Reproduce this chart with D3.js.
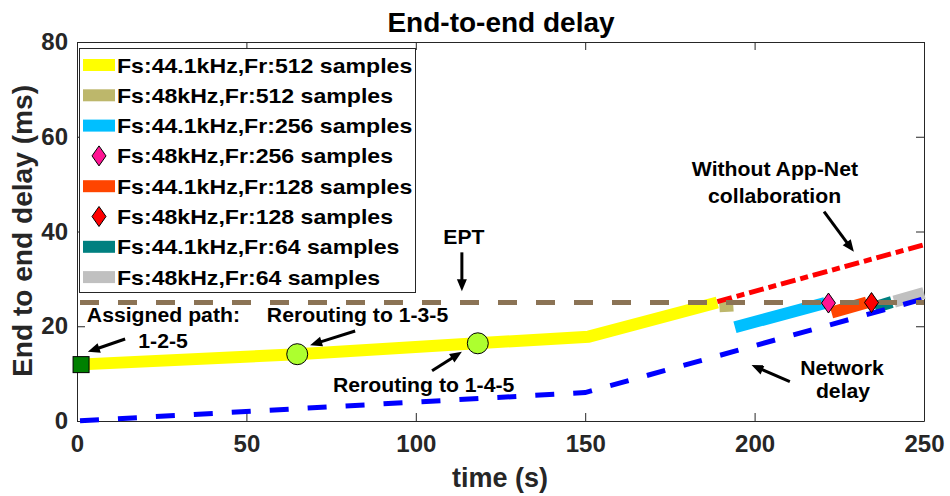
<!DOCTYPE html>
<html><head><meta charset="utf-8">
<script src="https://cdn.jsdelivr.net/npm/d3@7"></script>
<style>
body{margin:0;background:#fff}
svg{display:block}
text{font-family:"Liberation Sans",Arial,Helvetica,sans-serif;font-weight:bold}
</style>
</head><body>
<svg id="c" width="950" height="496"></svg>
<script>
// ---------- data ----------
const xTicks = [0, 50, 100, 150, 200, 250];
const yTicks = [0, 20, 40, 60, 80];
const fs441_512 = [[0, 11.9], [65, 14.1], [118, 16.4], [151, 17.8], [189, 25.0]];
const fs48_512  = [[189.6, 24.2], [193.7, 24.4]];
const fs441_256 = [[194.2, 19.8], [220.8, 24.9]];
const fs48_256  = [[221.8, 24.9]];
const fs441_128 = [[222.7, 22.9], [233.1, 25.0]];
const fs48_128  = [[234.5, 25.0]];
const fs441_64  = [[235.5, 24.0], [240.5, 25.1]];
const fs48_64   = [[241.2, 25.2], [250, 27.0]];
const networkDelay = [[0, 0], [150, 6], [250, 25.8]];
const withoutCollab = [[189, 25.2], [250, 37.2]];
const eptLine = [[0, 25], [250, 25]];
const reroutePoints = [[65, 14.1], [118.3, 16.4]];
const assignedPoint = [[1.2, 11.9]];
const legendLabels = [
  "Fs:44.1kHz,Fr:512 samples", "Fs:48kHz,Fr:512 samples",
  "Fs:44.1kHz,Fr:256 samples", "Fs:48kHz,Fr:256 samples",
  "Fs:44.1kHz,Fr:128 samples", "Fs:48kHz,Fr:128 samples",
  "Fs:44.1kHz,Fr:64 samples",  "Fs:48kHz,Fr:64 samples"];
const legendKinds = ["line", "line", "line", "diamond", "line", "diamond", "line", "line"];
const seriesColors = ["#FFFF00", "#BDB76B", "#00BFFF", "#FF1493", "#FF4500", "#FF0000", "#008080", "#C0C0C0"];
const annoTexts = [
  {t: "EPT", x: 114.2, y: 37.4},
  {t: "Without App-Net", x: 206.0, y: 51.7},
  {t: "collaboration", x: 205.9, y: 46.0},
  {t: "Network", x: 225.8, y: 9.7},
  {t: "delay", x: 226.1, y: 4.9},
  {t: "Assigned path:", x: 25.5, y: 21.0},
  {t: "1-2-5", x: 25.4, y: 15.4},
  {t: "Rerouting to 1-3-5", x: 82.8, y: 21.0},
  {t: "Rerouting to 1-4-5", x: 102.3, y: 6.1}];
const annoArrows = [
  [113.6, 35.6, 113.6, 27.4],
  [220.5, 44.2, 229.3, 35.7],
  [210.4, 8.3, 199.1, 11.8],
  [14.2, 17.3, 3.2, 14.6],
  [82.1, 19.0, 68.8, 16.0],
  [104.8, 10.6, 113.6, 14.6]];

// ---------- layout ----------
const svg = d3.select("#c");
const L = 77, R = 924, T = 42, B = 421;
const x = d3.scaleLinear().domain([0, 250]).range([L, R]);
const y = d3.scaleLinear().domain([0, 80]).range([B, T]);
const axisColor = "#262626";

function stretch(sel, f) {
  sel.each(function () {
    const w = this.getComputedTextLength();
    d3.select(this).attr("textLength", w * f).attr("lengthAdjust", "spacingAndGlyphs");
  });
}

// axes
const gx = svg.append("g").attr("transform", `translate(0,${B})`)
  .call(d3.axisBottom(x).tickValues(xTicks).tickSizeInner(-8).tickSizeOuter(0).tickPadding(14));
const gxTop = svg.append("g").attr("transform", `translate(0,${T})`)
  .call(d3.axisTop(x).tickValues(xTicks).tickSizeInner(-8).tickSizeOuter(0).tickFormat(""));
const gy = svg.append("g").attr("transform", `translate(${L},0)`)
  .call(d3.axisLeft(y).tickValues(yTicks).tickSizeInner(-8).tickSizeOuter(0).tickPadding(9));
const gyR = svg.append("g").attr("transform", `translate(${R},0)`)
  .call(d3.axisRight(y).tickValues(yTicks).tickSizeInner(-8).tickSizeOuter(0).tickFormat(""));
[gx, gxTop, gy, gyR].forEach(g => {
  g.select(".domain").attr("stroke", axisColor).attr("stroke-width", 1);
  g.selectAll(".tick line").attr("stroke", axisColor).attr("stroke-width", 1);
  g.selectAll(".tick text").attr("fill", axisColor).attr("font-size", 24)
    .style("font-family", '"Liberation Sans",Arial,sans-serif').style("font-weight", "bold");
});
gx.selectAll(".tick text").attr("dy", "0.71em");

const line = d3.line().x(d => x(d[0])).y(d => y(d[1]));
const plot = svg.append("g");

const thickSeries = [fs441_512, fs48_512, fs441_256, null, fs441_128, null, fs441_64, fs48_64];
thickSeries.forEach((s, i) => {
  if (!s) return;
  plot.append("path").datum(s).attr("d", line).attr("fill", "none")
    .attr("stroke", seriesColors[i]).attr("stroke-width", 12).attr("stroke-linejoin", "miter");
});
plot.append("path").datum(networkDelay).attr("d", line).attr("fill", "none")
  .attr("stroke", "#0000FF").attr("stroke-width", 5).attr("stroke-dasharray", "19,19")
  .attr("stroke-dashoffset", -3);
plot.append("path").datum(withoutCollab).attr("d", line).attr("fill", "none")
  .attr("stroke", "#FF0000").attr("stroke-width", 5).attr("stroke-dasharray", "15,5,8,5");
plot.append("path").datum(eptLine).attr("d", line).attr("fill", "none")
  .attr("stroke", "#8B7355").attr("stroke-width", 5).attr("stroke-dasharray", "19,19")
  .attr("stroke-dashoffset", -3);

const diamond = "M0,-10L7,0L0,10L-7,0Z";
[[fs48_256, seriesColors[3]], [fs48_128, seriesColors[5]]].forEach(([s, c]) => {
  plot.selectAll(null).data(s).enter().append("path").attr("d", diamond)
    .attr("transform", d => `translate(${x(d[0])},${y(d[1])})`)
    .attr("fill", c).attr("stroke", "#000").attr("stroke-width", 1);
});
plot.selectAll(null).data(assignedPoint).enter().append("rect")
  .attr("x", d => x(d[0]) - 8).attr("y", d => y(d[1]) - 8).attr("width", 16).attr("height", 16)
  .attr("fill", "#008000").attr("stroke", "#000").attr("stroke-width", 1);
plot.selectAll(null).data(reroutePoints).enter().append("circle")
  .attr("cx", d => x(d[0])).attr("cy", d => y(d[1])).attr("r", 10.5)
  .attr("fill", "#ADFF2F").attr("stroke", "#000").attr("stroke-width", 1);

// annotations
const ann = svg.append("g");
ann.selectAll(null).data(annoTexts).enter().append("text")
  .attr("x", d => x(d.x)).attr("y", d => y(d.y)).attr("text-anchor", "middle")
  .attr("font-size", 20).attr("fill", "#000").text(d => d.t)
  .call(stretch, 1.06);
annoArrows.forEach(a => {
  const x1 = x(a[0]), y1 = y(a[1]), x2 = x(a[2]), y2 = y(a[3]);
  const dx = x2 - x1, dy = y2 - y1, len = Math.hypot(dx, dy);
  const ux = dx / len, uy = dy / len, hl = 12, hw = 5;
  const bx = x2 - ux * hl, by = y2 - uy * hl;
  ann.append("line").attr("x1", x1).attr("y1", y1).attr("x2", bx + ux).attr("y2", by + uy)
    .attr("stroke", "#000").attr("stroke-width", 3);
  ann.append("path")
    .attr("d", `M${x2},${y2}L${bx - uy * hw},${by + ux * hw}L${bx + uy * hw},${by - ux * hw}Z`)
    .attr("fill", "#000");
});

// legend
const lg = svg.append("g");
lg.append("rect").attr("x", 79.5).attr("y", 48.5).attr("width", 336).attr("height", 244)
  .attr("fill", "#fff").attr("stroke", axisColor).attr("stroke-width", 1);
legendLabels.forEach((lab, i) => {
  const cy = 65 + i * 30.3;
  if (legendKinds[i] === "line") {
    lg.append("line").attr("x1", 83).attr("x2", 115).attr("y1", cy).attr("y2", cy)
      .attr("stroke", seriesColors[i]).attr("stroke-width", 12);
  } else {
    lg.append("path").attr("d", diamond).attr("transform", `translate(99,${cy})`)
      .attr("fill", seriesColors[i]).attr("stroke", "#000").attr("stroke-width", 1);
  }
  lg.append("text").attr("x", 117).attr("y", cy + 7.5).attr("font-size", 21)
    .attr("fill", "#000").text(lab).call(stretch, 1.1);
});

// titles
svg.append("text").attr("x", 501).attr("y", 32).attr("text-anchor", "middle")
  .attr("font-size", 28).attr("fill", "#000").text("End-to-end delay");
svg.append("text").attr("x", 500).attr("y", 487).attr("text-anchor", "middle")
  .attr("font-size", 27).attr("fill", axisColor).text("time (s)");
svg.append("text").attr("transform", "translate(32,231) rotate(-90)").attr("text-anchor", "middle")
  .attr("font-size", 27).attr("fill", axisColor).text("End to end delay (ms)")
  .attr("textLength", 292).attr("lengthAdjust", "spacingAndGlyphs");
</script>
</body></html>
